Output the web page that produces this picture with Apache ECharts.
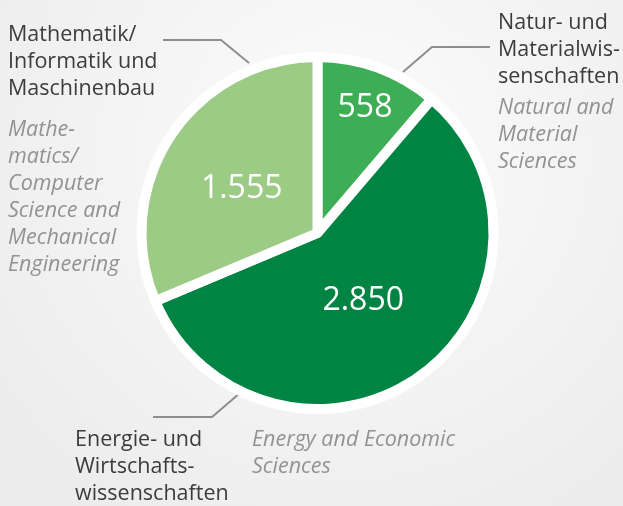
<!DOCTYPE html>
<html>
<head>
<meta charset="utf-8">
<script src="https://cdn.jsdelivr.net/npm/echarts@6/dist/echarts.min.js"></script>
<style>
html,body{margin:0;padding:0;}
#c{width:623px;height:506px;}
</style>
</head>
<body>
<div id="c"></div>
<script>
// Data
const categories = ['Natur- und Materialwissenschaften', 'Energie- und Wirtschaftswissenschaften', 'Mathematik/Informatik und Maschinenbau'];
const values = [558, 2850, 1555];
const labelsDE = ['Natur- und\nMaterialwis-\nsenschaften', 'Energie- und\nWirtschafts-\nwissenschaften', 'Mathematik/\nInformatik und\nMaschinenbau'];
const labelsEN = ['Natural and\nMaterial\nSciences', 'Energy and Economic\nSciences', 'Mathe-\nmatics/\nComputer\nScience and\nMechanical\nEngineering'];

const sliceColors = ['#3dae56', '#008444', '#9ccb85'];
const labelOffsets = [[16, -40], [-8, -6], [0, 6]];
const FONT = '"Open Sans", "Noto Sans", sans-serif';

function fmtDE(v) {
  return String(v).replace(/\B(?=(\d{3})+(?!\d))/g, '.');
}

const chart = echarts.init(document.getElementById('c'), null, {renderer: 'canvas'});

const darkText = '#3c3c3c';
const grayText = '#929292';
const lineColor = '#8e8e8e';

function txt(x, y, text, italic, color) {
  return {
    type: 'text', x: x, y: y, silent: true,
    style: {
      text: text, fill: color, fontSize: 21.5, fontFamily: FONT,
      fontStyle: italic ? 'italic' : 'normal', lineHeight: 27,
      verticalAlign: 'top', align: 'left'
    }
  };
}
function line(points) {
  return {
    type: 'polyline', silent: true,
    shape: {points: points},
    style: {stroke: lineColor, lineWidth: 2, fill: null}
  };
}

chart.setOption({
  backgroundColor: {
    type: 'radial', x: 0.55, y: 0.3, r: 0.85,
    colorStops: [{offset: 0, color: '#fcfcfc'}, {offset: 1, color: '#ececec'}]
  },
  animation: false,
  graphic: [
    txt(8, 21, labelsDE[2], false, darkText),
    txt(8, 116, labelsEN[2], true, grayText),
    txt(498, 9, labelsDE[0], false, darkText),
    txt(498, 94, labelsEN[0], true, grayText),
    txt(75, 426, labelsDE[1], false, darkText),
    txt(252, 426, labelsEN[1], true, grayText),
    line([[163, 40], [221, 40], [249, 63]]),
    line([[403, 72], [432, 47], [490, 47]]),
    line([[240, 393], [212, 417], [153, 417]])
  ],
  series: [{
    type: 'pie',
    center: [317.5, 233],
    radius: [0, 176],
    startAngle: 90,
    clockwise: true,
    avoidLabelOverlap: false,
    labelLine: {show: false},
    itemStyle: {borderColor: '#ffffff', borderWidth: 10},
    emphasis: {disabled: true},
    data: values.map((v, i) => ({
      name: categories[i],
      value: v,
      itemStyle: {color: sliceColors[i]},
      label: {offset: labelOffsets[i]}
    })),
    label: {
      show: true,
      position: 'inside',
      color: '#ffffff',
      fontSize: 32,
      fontFamily: FONT,
      formatter: p => fmtDE(p.value)
    }
  }]
});
</script>
</body>
</html>
